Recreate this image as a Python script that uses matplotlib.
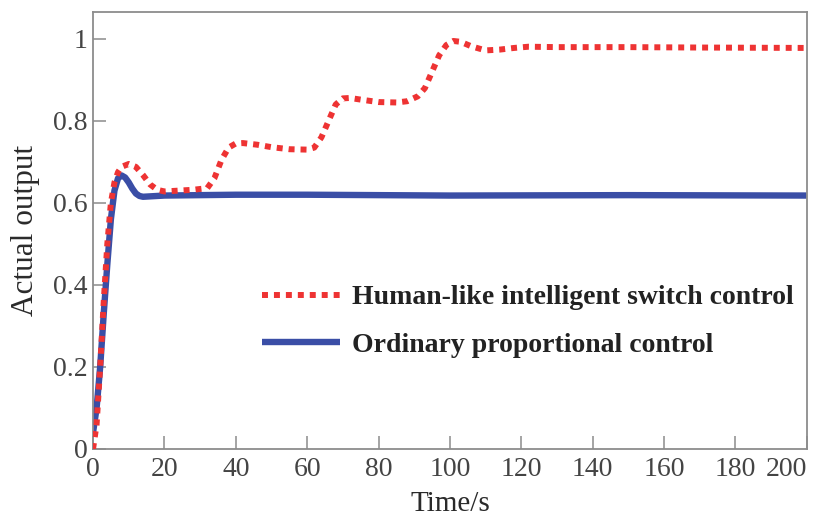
import numpy as np
import matplotlib
matplotlib.use("Agg")
import matplotlib.pyplot as plt

# ###########################################
# Data
# ###########################################
t_switch = [0, 1, 2, 3, 4, 5, 6, 7, 8, 10, 12, 14, 16, 18, 20, 24, 28, 32, 34, 36,
            38, 40, 42, 46, 50, 55, 60, 62, 64, 66, 68, 70, 72, 75, 80, 85, 88, 91,
            93, 95, 97, 99, 101, 103, 106, 110, 114, 118, 122, 130, 150, 170, 200]
y_switch = [0.0, 0.06, 0.2, 0.36, 0.5, 0.6, 0.65, 0.675, 0.688, 0.695, 0.688, 0.668,
            0.645, 0.632, 0.628, 0.63, 0.632, 0.636, 0.66, 0.705, 0.735, 0.745, 0.746,
            0.742, 0.736, 0.731, 0.73, 0.735, 0.76, 0.8, 0.84, 0.855, 0.856, 0.852,
            0.846, 0.845, 0.848, 0.86, 0.88, 0.92, 0.96, 0.985, 0.995, 0.993, 0.982,
            0.972, 0.974, 0.978, 0.981, 0.98, 0.98, 0.979, 0.978]

t_prop = [0, 1, 2, 3, 4, 5, 6, 7, 8, 9, 10, 11, 12, 13, 14, 16, 20, 40, 60, 100, 150, 200]
y_prop = [0.04, 0.1, 0.2, 0.33, 0.45, 0.56, 0.63, 0.66, 0.667, 0.662, 0.65, 0.635,
          0.623, 0.617, 0.615, 0.616, 0.618, 0.62, 0.62, 0.618, 0.619, 0.618]

labels = ["Human-like intelligent switch control", "Ordinary proportional control"]
x_ticks = list(range(0, 201, 20))
y_ticks = [0, 0.2, 0.4, 0.6, 0.8, 1]
y_tick_labels = ["0", "0.2", "0.4", "0.6", "0.8", "1"]

# ###########################################
# Plot
# ###########################################
plt.rcParams['font.family'] = ['Liberation Serif', 'DejaVu Serif']

fig = plt.figure(figsize=(8.19, 5.16), dpi=100)
ax = fig.add_axes([0.1136, 0.130, 0.8714, 0.847])

ax.plot(t_switch, y_switch, color="#ee3333", linewidth=4.3, dashes=(1, 1),
        label=labels[0], zorder=3)
ax.plot(t_prop, y_prop, color="#3a4ea6", linewidth=4.6, label=labels[1],
        solid_capstyle="butt", zorder=2)

ax.set_xlim(0, 200)
ax.set_ylim(0, 1.066)
ax.set_xticks(x_ticks)
ax.set_yticks(y_ticks)
ax.set_yticklabels(y_tick_labels)

for side in ax.spines.values():
    side.set_color("#8c8c8c")
    side.set_linewidth(1.3)
ax.tick_params(direction="in", length=9.5, width=1.1, color="#8c8c8c",
               labelsize=20, labelcolor="#444444")
ax.tick_params(axis="x", pad=6)
ax.tick_params(axis="y", pad=4)

# last x label sits left of its tick in the reference
ax.get_xticklabels()[-1].set_horizontalalignment("right")

ax.set_xlabel("Time/s", fontsize=21, color="#2a2a2a", labelpad=6)
ax.set_ylabel("Actual output", fontsize=22.5, color="#2a2a2a", labelpad=9)

ax.legend(loc="upper left", bbox_to_anchor=(0.237, 0.375), frameon=False,
          prop={"weight": "bold", "size": 20}, handlelength=2.8,
          handletextpad=0.43, labelspacing=0.79, borderpad=0, borderaxespad=0,
          labelcolor="#222222")

plt.savefig("out.png", dpi=100)
